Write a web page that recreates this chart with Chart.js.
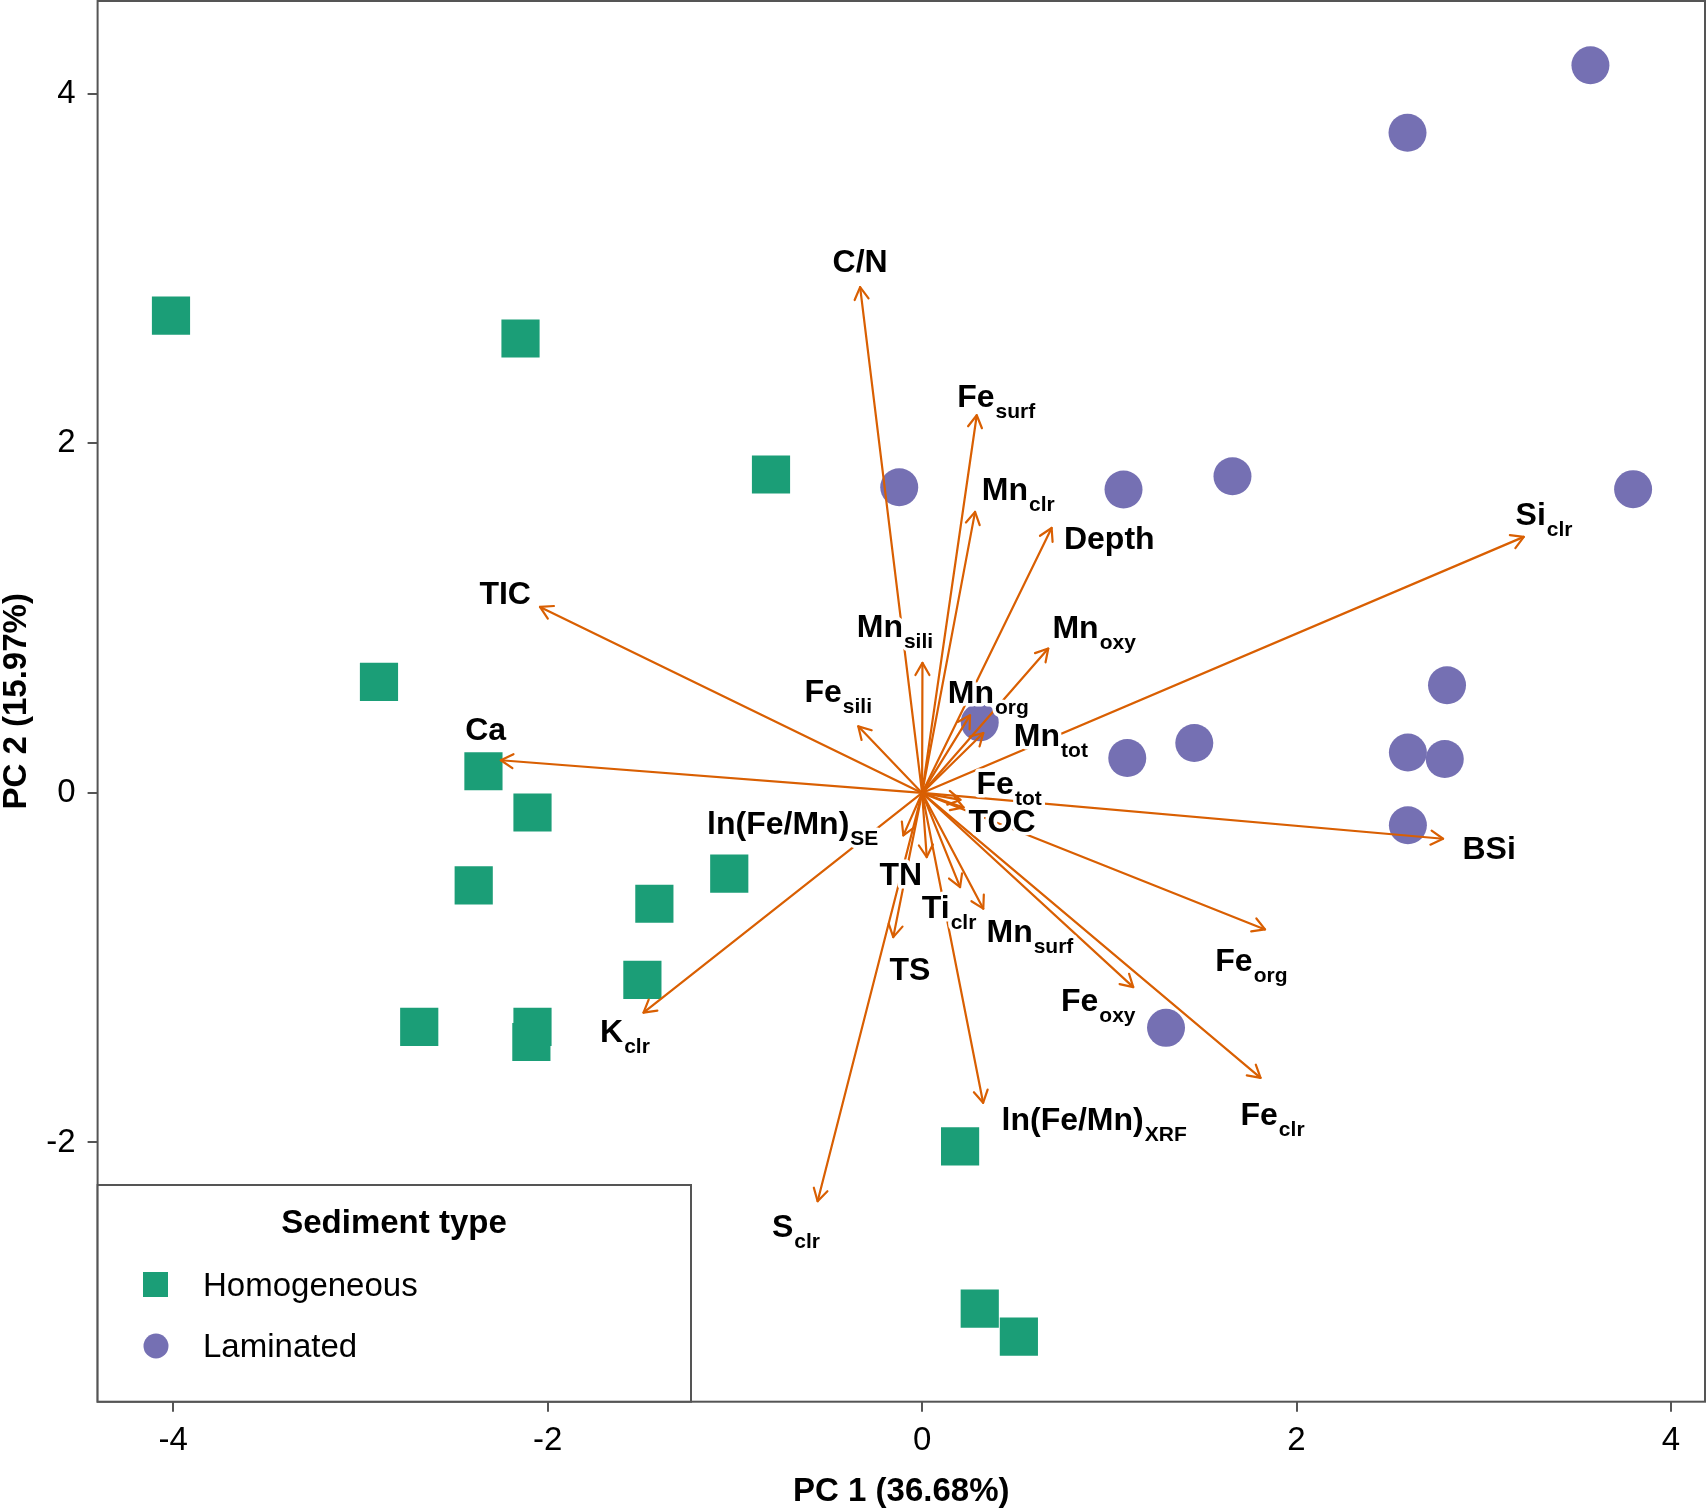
<!DOCTYPE html>
<html lang="en">
<head>
<meta charset="UTF-8">
<title>PCA biplot - sediment type</title>
<script src="https://cdn.jsdelivr.net/npm/chart.js"></script>
<style>
  html, body { margin: 0; padding: 0; background: #fff; }
  #wrap { width: 1707px; height: 1508px; }
</style>
</head>
<body>
<div id="wrap"><canvas id="pca" width="1707" height="1508"></canvas></div>
<script>
// sample scores (PC1, PC2)
const homX = [-4.012, -2.145, -0.807, -2.901, -2.343, -2.081, -2.395, -1.030, -1.430, -1.494, -2.686, -2.081, -2.087, 0.203, 0.308, 0.517];
const homY = [2.731, 2.600, 1.822, 0.635, 0.124, -0.112, -0.529, -0.462, -0.634, -1.070, -1.338, -1.338, -1.425, -2.022, -2.950, -3.111];
const lamX = [3.570, 2.593, -0.122, 1.076, 1.658, 3.798, 2.804, 0.308, 1.096, 1.454, 2.595, 2.792, 2.595, 1.303];
const lamY = [4.163, 3.777, 1.749, 1.736, 1.812, 1.738, 0.616, 0.404, 0.200, 0.286, 0.231, 0.194, -0.185, -1.344];

// variable loadings: name, subscript, arrow tip, label position
const varMain = ['C/N', 'Fe', 'Mn', 'Depth', 'Si', 'TIC', 'Mn', 'Mn', 'Fe', 'Mn', 'Ca', 'Mn', 'Fe',
                 'TOC', 'BSi', 'ln(Fe/Mn)', 'TN', 'Ti', 'Mn', 'TS', 'Fe', 'K', 'Fe', 'ln(Fe/Mn)', 'Fe', 'S'];
const varSub = ['', 'surf', 'clr', '', 'clr', '', 'sili', 'oxy', 'sili', 'org', '', 'tot', 'tot',
                '', '', 'SE', '', 'clr', 'surf', '', 'org', 'clr', 'oxy', 'XRF', 'clr', 'clr'];
const arrowX = [-0.331, 0.292, 0.283, 0.692, 3.214, -2.041, 0.002, 0.674, -0.341, 0.256, -2.250, 0.327, 0.205,
                0.222, 2.783, -0.100, 0.025, 0.203, 0.327, -0.154, 1.832, -1.488, 1.128, 0.326, 1.808, -0.558];
const arrowY = [2.894, 2.161, 1.608, 1.516, 1.465, 1.064, 0.744, 0.826, 0.381, 0.444, 0.187, 0.343, -0.040,
                -0.083, -0.262, -0.243, -0.367, -0.539, -0.662, -0.825, -0.781, -1.257, -1.111, -1.773, -1.630, -2.336];
const labelX = [-0.331, 0.396, 0.514, 1.000, 3.322, -2.227, -0.145, 0.919, -0.448, 0.354, -2.331, 0.688, 0.465,
                0.427, 3.029, -0.691, -0.114, 0.144, 0.576, -0.065, 1.759, -1.587, 0.941, 0.919, 1.872, -0.674];
const labelY = [3.049, 2.273, 1.744, 1.462, 1.596, 1.145, 0.959, 0.952, 0.587, 0.583, 0.367, 0.335, 0.058,
                -0.157, -0.310, -0.167, -0.460, -0.648, -0.789, -1.004, -0.954, -1.357, -1.180, -1.861, -1.836, -2.477];

const xTicks = [-4, -2, 0, 2, 4];
const yTicks = [-2, 0, 2, 4];

const GREEN = '#1b9e77';
const PURPLE = '#7570b3';
const ORANGE = '#d95f02';
const FONT = '"Liberation Sans", Arial, Helvetica, sans-serif';

// arrows + labels drawn over the points
const biplot = {
    id: 'biplot',
    afterDatasetsDraw(chart) {
        const ctx = chart.ctx;
        const xs = chart.scales.x, ys = chart.scales.y;
        const x0 = xs.getPixelForValue(0), y0 = ys.getPixelForValue(0);
        const area = chart.chartArea;

        ctx.save();
        ctx.beginPath();
        ctx.rect(area.left, area.top, area.right - area.left, area.bottom - area.top);
        ctx.clip();

        ctx.strokeStyle = ORANGE;
        ctx.lineWidth = 2.2;
        ctx.lineCap = 'round';
        ctx.lineJoin = 'round';
        const head = 14, spread = Math.PI / 6;
        for (let i = 0; i < arrowX.length; i++) {
            const x1 = xs.getPixelForValue(arrowX[i]);
            const y1 = ys.getPixelForValue(arrowY[i]);
            ctx.beginPath();
            ctx.moveTo(x0, y0);
            ctx.lineTo(x1, y1);
            ctx.stroke();
            const ang = Math.atan2(y1 - y0, x1 - x0);
            ctx.beginPath();
            ctx.moveTo(x1 - head * Math.cos(ang - spread), y1 - head * Math.sin(ang - spread));
            ctx.lineTo(x1, y1);
            ctx.lineTo(x1 - head * Math.cos(ang + spread), y1 - head * Math.sin(ang + spread));
            ctx.stroke();
        }

        // labels with white halo
        const mainFont = 'bold 32px ' + FONT;
        const subFont = 'bold 21px ' + FONT;
        ctx.textBaseline = 'alphabetic';
        ctx.textAlign = 'left';
        ctx.lineJoin = 'round';
        for (let i = 0; i < varMain.length; i++) {
            const cx = xs.getPixelForValue(labelX[i]);
            const cy = ys.getPixelForValue(labelY[i]);
            ctx.font = mainFont;
            const mw = ctx.measureText(varMain[i]).width;
            ctx.font = subFont;
            const sw = varSub[i] ? ctx.measureText(varSub[i]).width + 1 : 0;
            const sx = cx - (mw + sw) / 2;
            const base = cy + 11.5;

            ctx.strokeStyle = '#fff';
            ctx.lineWidth = 7;
            ctx.font = mainFont;
            ctx.strokeText(varMain[i], sx, base);
            if (sw) { ctx.font = subFont; ctx.strokeText(varSub[i], sx + mw + 1, base + 11); }

            ctx.fillStyle = '#000';
            ctx.font = mainFont;
            ctx.fillText(varMain[i], sx, base);
            if (sw) { ctx.font = subFont; ctx.fillText(varSub[i], sx + mw + 1, base + 11); }
        }
        ctx.restore();
    },
    afterDraw(chart) {
        const ctx = chart.ctx;
        const a = chart.chartArea;
        ctx.save();
        // panel border
        ctx.strokeStyle = '#555';
        ctx.lineWidth = 2;
        ctx.strokeRect(a.left, a.top, a.right - a.left, a.bottom - a.top);

        // legend box in the lower left corner
        const lx = a.left, ly = 1185, lw = 691 - a.left, lh = a.bottom - 1185;
        ctx.fillStyle = '#fff';
        ctx.fillRect(lx, ly, lw, lh);
        ctx.strokeRect(lx, ly, lw, lh);

        ctx.fillStyle = '#000';
        ctx.textBaseline = 'middle';
        ctx.textAlign = 'center';
        ctx.font = 'bold 33px ' + FONT;
        ctx.fillText('Sediment type', 394, 1224);

        ctx.textAlign = 'left';
        ctx.font = '33px ' + FONT;
        ctx.fillStyle = GREEN;
        ctx.fillRect(143, 1272, 25, 25);
        ctx.fillStyle = '#000';
        ctx.fillText('Homogeneous', 203, 1287);

        ctx.fillStyle = PURPLE;
        ctx.beginPath();
        ctx.arc(156, 1346, 12.5, 0, Math.PI * 2);
        ctx.fill();
        ctx.fillStyle = '#000';
        ctx.fillText('Laminated', 203, 1348);
        ctx.restore();
    }
};

const tickFont = { family: FONT, size: 33 };
const titleFont = { family: FONT, size: 33, weight: 'bold', lineHeight: 1 };

new Chart(document.getElementById('pca'), {
    type: 'scatter',
    data: {
        datasets: [
            {
                label: 'Homogeneous',
                data: homX.map((x, i) => ({ x: x, y: homY[i] })),
                backgroundColor: GREEN,
                borderWidth: 0,
                pointStyle: 'rect',
                pointRadius: 27
            },
            {
                label: 'Laminated',
                data: lamX.map((x, i) => ({ x: x, y: lamY[i] })),
                backgroundColor: PURPLE,
                borderWidth: 0,
                pointStyle: 'circle',
                pointRadius: 19
            }
        ]
    },
    options: {
        responsive: false,
        animation: false,
        events: [],
        layout: { autoPadding: false, padding: { top: 1, right: 2, left: 0, bottom: 0 } },
        plugins: {
            legend: { display: false },
            tooltip: { enabled: false }
        },
        scales: {
            x: {
                type: 'linear',
                min: -4.404,
                max: 4.182,
                afterBuildTicks: s => { s.ticks = xTicks.map(v => ({ value: v })); },
                afterFit: s => { s.height = 106.3; s.paddingLeft = 0; s.paddingRight = 0; },
                grid: { drawOnChartArea: false, drawTicks: true, tickLength: 10, color: '#555', lineWidth: 2 },
                border: { display: false },
                ticks: { color: '#000', font: tickFont, padding: 9, maxRotation: 0, callback: v => String(v) },
                title: { display: true, text: 'PC 1 (36.68%)', color: '#000', font: titleFont, padding: { top: 0, bottom: 0 } }
            },
            y: {
                type: 'linear',
                min: -3.483,
                max: 4.531,
                afterBuildTicks: s => { s.ticks = yTicks.map(v => ({ value: v })); },
                afterFit: s => { s.width = 97.6; s.paddingTop = 0; s.paddingBottom = 0; },
                grid: { drawOnChartArea: false, drawTicks: true, tickLength: 10, color: '#555', lineWidth: 2 },
                border: { display: false },
                ticks: { color: '#000', font: tickFont, padding: 12, callback: v => String(v) },
                title: { display: true, text: 'PC 2 (15.97%)', color: '#000', font: titleFont, padding: { top: 0, bottom: 0 } }
            }
        }
    },
    plugins: [biplot]
});
</script>
</body>
</html>
